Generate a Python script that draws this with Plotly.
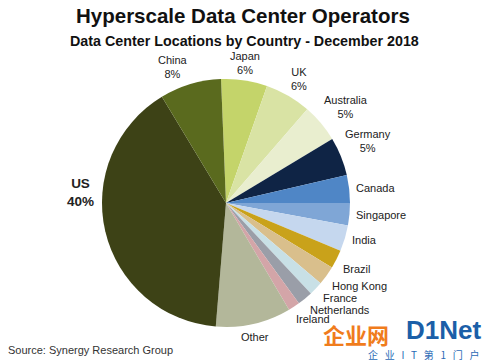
import math
import plotly.graph_objects as go

countries = ["Japan", "UK", "Australia", "Germany", "Canada", "Singapore", "India",
             "Brazil", "Hong Kong", "France", "Netherlands", "Ireland", "Other", "US", "China"]
shares = [6, 6, 5, 5, 3.6, 2.9, 3.4, 2.4, 2.5, 1.8, 2.0, 1.5, 9.8, 40, 8]
label_text = ["Japan<br>6%", "UK<br>6%", "Australia<br>5%", "Germany<br>5%", "Canada",
              "Singapore", "India", "Brazil", "Hong Kong", "France", "Netherlands",
              "Ireland", "Other", "<b>US<br>40%</b>", "China<br>8%"]
colors = ["#c4d46a", "#d9e3a4", "#e9eecf", "#0f2445", "#4f86c6", "#7fa6d6", "#c5d7ee",
          "#c9a21a", "#d9bf8c", "#c8e0e6", "#9a9ea8", "#d3a5a8", "#b3b79a", "#3d4216", "#5a6a1e"]

W, H = 482, 362
ROTATION = -2.3
dom_x = [0.2116, 0.7261]
dom_y = [0.0967, 0.7818]

fig = go.Figure(go.Pie(
    labels=countries, values=shares, textinfo="none", sort=False, direction="clockwise",
    rotation=ROTATION, marker=dict(colors=colors, line=dict(width=0)),
    domain=dict(x=dom_x, y=dom_y), showlegend=False, hoverinfo="label+value"
))

# Labels placed around the pie at each slice's mid-angle (derived from the data)
cx = sum(dom_x) / 2
cy = sum(dom_y) / 2
r_px = (dom_x[1] - dom_x[0]) * W / 2
label_nudge = {"US": (-4, 40), "France": (2, 2), "Ireland": (-2, 0)}
label_sizes = {"US": 13.5}
total = sum(shares)
annotations = []
cum = 0.0
for name, val, txt in zip(countries, shares, label_text):
    mid = ROTATION + (cum + val / 2) / total * 360
    cum += val
    a = math.radians(mid)
    s, c = math.sin(a), math.cos(a)
    xanchor = "left" if s > 0.25 else ("right" if s < -0.25 else "center")
    yanchor = "bottom" if c > 0.3 else ("top" if c < -0.3 else "middle")
    gap = 3 if yanchor == "bottom" else 6
    x = cx + (r_px + gap) * s / W
    y = cy + (r_px + gap) * c / H
    dx, dy = label_nudge.get(name, (0, 0))
    annotations.append(dict(
        text=txt, x=x, y=y, xref="paper", yref="paper", xanchor=xanchor, yanchor=yanchor,
        xshift=dx, yshift=dy, showarrow=False, align="center", borderpad=0,
        font=dict(size=label_sizes.get(name, 11), color="#222")))

annotations += [
    dict(text="<b>Hyperscale Data Center Operators</b>", x=0.505, y=0.995, xref="paper", yref="paper",
         xanchor="center", yanchor="top", showarrow=False, font=dict(size=20.5, color="#111")),
    dict(text="<b>Data Center Locations by Country - December 2018</b>", x=0.507, y=0.915, xref="paper",
         yref="paper", xanchor="center", yanchor="top", showarrow=False, font=dict(size=14.3, color="#111")),
    dict(text="Source: Synergy Research Group", x=0.012, y=0.01, xref="paper", yref="paper",
         xanchor="left", yanchor="bottom", showarrow=False, font=dict(size=11, color="#333")),
    dict(text="<b>企业网</b>", x=0.668, y=0.03, xref="paper", yref="paper", xanchor="left",
         yanchor="bottom", showarrow=False, borderpad=0,
         font=dict(size=22, color="#f07c1c", family="Noto Sans CJK SC")),
    dict(text="<b>D1Net</b>", x=1.0, y=0.045, xref="paper", yref="paper", xanchor="right",
         yanchor="bottom", showarrow=False, borderpad=0, font=dict(size=26, color="#1b5fa8")),
    dict(text="企   业   I   T   第   1   门   户", x=0.998, y=-0.004, xref="paper", yref="paper",
         xanchor="right", yanchor="bottom", showarrow=False, borderpad=0,
         font=dict(size=10, color="#2a6ab5", family="Noto Sans CJK SC")),
]

fig.update_layout(
    width=W, height=H, margin=dict(l=0, r=0, t=0, b=0),
    paper_bgcolor="white", plot_bgcolor="white",
    font=dict(family="Liberation Sans, Arial"),
    annotations=annotations,
)

fig.write_html("out.html", config={"displayModeBar": False},
               post_script="document.body.style.margin='0';")
